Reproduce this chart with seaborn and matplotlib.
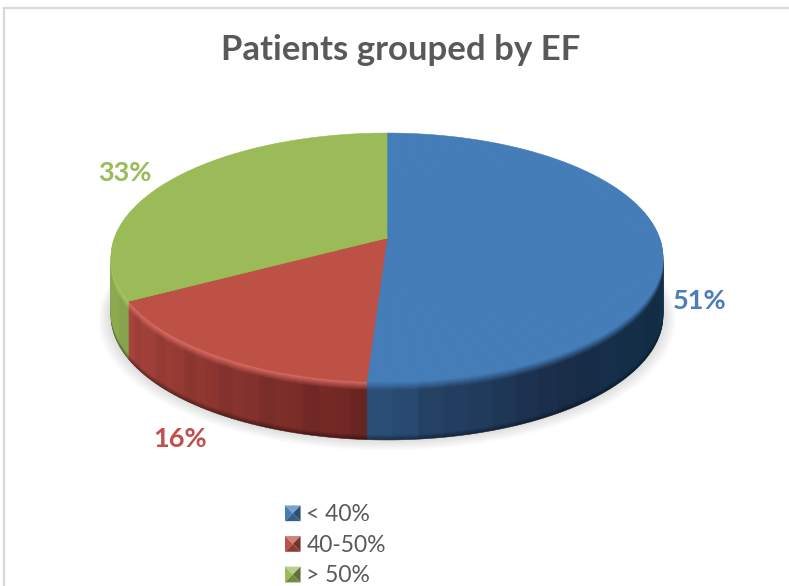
import matplotlib
matplotlib.use('Agg')
import matplotlib.pyplot as plt
import numpy as np
import seaborn as sns
from matplotlib.legend_handler import HandlerBase
from matplotlib.lines import Line2D
from matplotlib.patches import Patch, Polygon
from matplotlib.transforms import Affine2D, Transform

categories = ['< 40%', '40-50%', '> 50%']
shares = [51, 16, 33]

top_colors = ['#457db9', '#bd5145', '#9bbb59']
label_colors = ['#4a7ebb', '#c0504d', '#9bbb59']
rim_colors = ['#457db9', '#e0706a', '#aecb6b']
# wall colour stops running clockwise along each slice
wall_stops = [
    ['#132e47'] * 5 + ['#1c2f4d', '#2a4e76'],
    ['#6e2623', '#a8443c'],
    ['#8dab50', '#80a044'],
]

W, H = 789, 586
CX, CY = 387, 238
DEPTH = 58
BANDS = 40
# tilt of the disc: pixel half-sizes and perspective strength
SCALE_X, SCALE_Y, TILT = 272.6, 121.4, 0.1566

sns.set_theme(style='white')
plt.rcParams['font.family'] = ['Lato', 'DejaVu Sans']


class Tilt(Transform):
    input_dims = output_dims = 2

    def transform_non_affine(self, values):
        values = np.asarray(values)
        w = 1 + TILT * values[:, 1]
        return np.column_stack([SCALE_X * values[:, 0] / w, SCALE_Y * values[:, 1] / w])


class PyramidHandler(HandlerBase):
    def create_artists(self, legend, orig, x0, y0, width, height, fontsize, trans):
        base = orig.get_facecolor()
        shades = sns.blend_palette([base, '#101010'], 8)
        light = sns.blend_palette([base, '#ffffff'], 8)[2]
        xa, xb, ya, yb = x0, x0 + width, y0, y0 + height
        mid = (x0 + width / 2, y0 + height / 2)
        faces = [
            ([(xa, yb), (xb, yb), mid], light),
            ([(xa, ya), (xa, yb), mid], base),
            ([(xb, ya), (xb, yb), mid], shades[3]),
            ([(xa, ya), (xb, ya), mid], shades[2]),
        ]
        return [Polygon(p, closed=True, facecolor=c, edgecolor='none', transform=trans)
                for p, c in faces]


fig = plt.figure(figsize=(W / 100, H / 100), dpi=100, facecolor='white')
ax = fig.add_axes([0, 0, 1, 1])
tilt = Tilt()


def place(wedges, drop):
    for w in wedges:
        w.set_transform(tilt + Affine2D().translate(0, -drop) + ax.transData)


# soft shadow under the disc
for i in range(14):
    wedges, _ = ax.pie([1], colors=['#000000'], radius=1.045 - i * 0.004,
                       wedgeprops={'alpha': 0.012, 'linewidth': 0})
    place(wedges, DEPTH + 3 - i * 0.3)

# every slice is cut into bands so the rim can be shaded along its length
sub_sizes = []
for s in shares:
    sub_sizes += [s / BANDS] * BANDS

bands = [sns.blend_palette(stops, BANDS) for stops in wall_stops]
# small alternating step gives the banded look of the original
bands = [[sns.blend_palette([c, '#000000'], 20)[1 if j % 6 < 2 else 0] for j, c in enumerate(b)]
         for b in bands]
rims = [[sns.blend_palette([rim_colors[k], c], 10) for c in bands[k]] for k in range(3)]
bottoms = [[sns.blend_palette([c, '#000000'], 14) for c in bands[k]] for k in range(3)]

# side wall: stacked pies
for d in range(DEPTH, 0, -1):
    colors = []
    for k in range(3):
        for j, c in enumerate(bands[k]):
            if d <= 9:
                c = rims[k][j][d]
            elif d >= DEPTH - 5:
                c = bottoms[k][j][d - (DEPTH - 5)]
            colors.append(c)
    wedges, _ = ax.pie(sub_sizes, colors=colors, startangle=90, counterclock=False,
                       wedgeprops={'linewidth': 0.4})
    for w in wedges:
        w.set_edgecolor(w.get_facecolor())
    place(wedges, d)

# top face
face_colors = [c for c in top_colors for _ in range(BANDS)]
wedges, _ = ax.pie(sub_sizes, colors=face_colors, startangle=90, counterclock=False,
                   wedgeprops={'linewidth': 0.4})
for w in wedges:
    w.set_edgecolor(w.get_facecolor())
place(wedges, 0)

ax.set_aspect('auto')
ax.set_xlim(-CX, W - CX)
ax.set_ylim(CY - H, CY)

# chart frame
fig.add_artist(Line2D([4 / W, 4 / W], [0, 1 - 8 / H], color='#d9d9d9', lw=1.6))
fig.add_artist(Line2D([4 / W, 1], [1 - 8 / H, 1 - 8 / H], color='#d9d9d9', lw=1.6))

fig.text(401 / W, 1 - 50 / H, 'Patients grouped by EF', color='#595959', fontsize=25,
         fontweight='bold', ha='center', va='center')

label_pos = [(700, 301), (180, 439), (125, 173)]
for s, c, (x, y) in zip(shares, label_colors, label_pos):
    fig.text(x / W, 1 - y / H, f'{s}%', color=c, fontsize=19.5, fontweight='bold',
             ha='center', va='center')

handles = [Patch(facecolor=c, label=n) for c, n in zip(top_colors, categories)]
leg = ax.legend(handles=handles, loc='upper left', bbox_to_anchor=(285 / W, 1 - 504 / H),
                bbox_transform=fig.transFigure, frameon=False, fontsize=16.5,
                labelcolor='#595959', handlelength=0.68, handleheight=0.68, handletextpad=0.25,
                labelspacing=0.42, borderpad=0, borderaxespad=0,
                handler_map={Patch: PyramidHandler()})

fig.savefig('out.png', dpi=100)
